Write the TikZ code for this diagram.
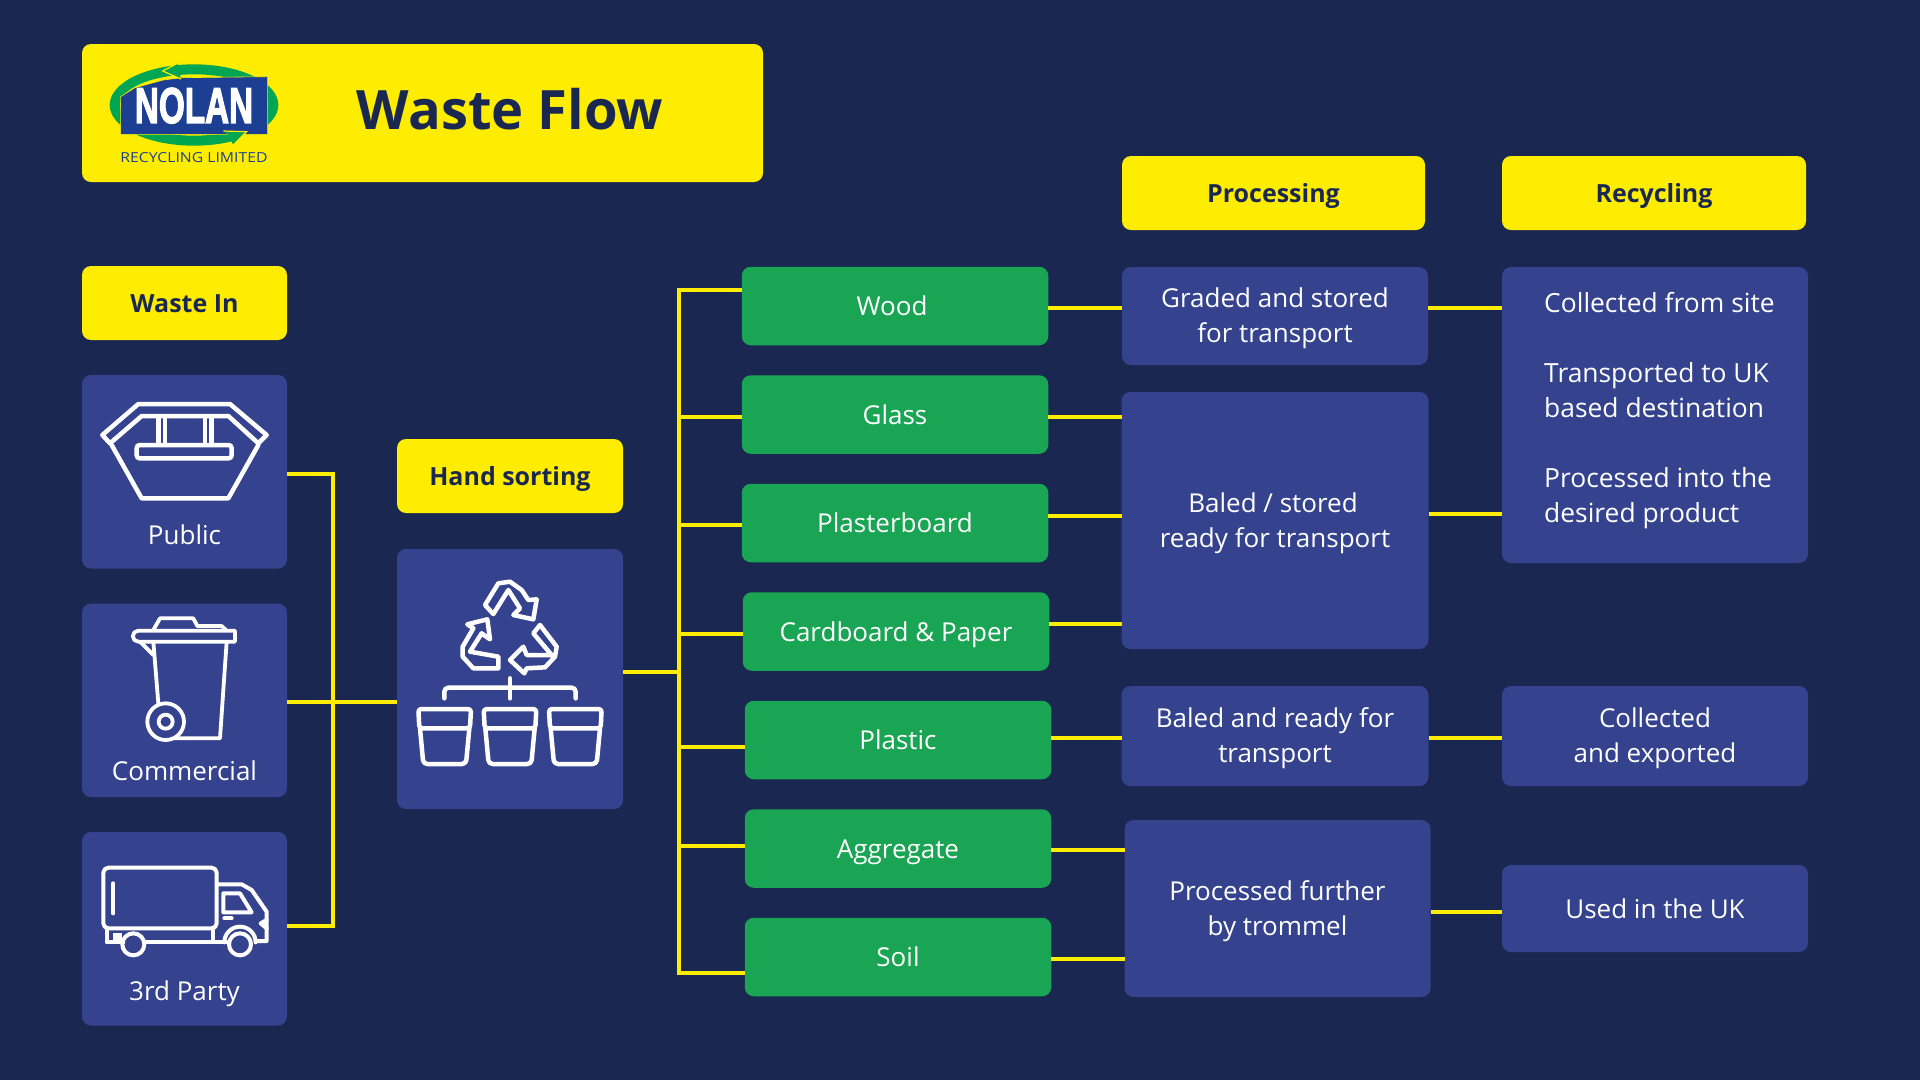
\documentclass[tikz,border=0pt]{standalone}
\usepackage{fontspec}
\usepackage{graphicx}
\setmainfont{Open Sans}
\newfontfamily\nolanfont{Liberation Sans}[BoldFeatures={FakeBold=3}]
\usetikzlibrary{
	positioning
}
\definecolor{navy}{HTML}{1A2750}
\definecolor{panel}{HTML}{35438F}
\definecolor{brightyellow}{HTML}{FFED00}
\definecolor{leaf}{HTML}{19A553}
\definecolor{logoblue}{HTML}{1C3F94}
\definecolor{logogreen}{HTML}{00A651}
\newcommand{\firstline}{\rule{0pt}{25pt}}
\tikzset{
	flowbox/.style={
		draw=none,
		rounded corners=9pt,
		inner sep=0pt,
		outer sep=0pt,
		align=center,
		font=\fontsize{26}{35}\selectfont
	},
	headbox/.style={
		flowbox,
		fill=brightyellow,
		text=navy,
		minimum height=74pt,
		text height=19pt,
		text depth=0pt,
		font=\fontsize{25}{35}\selectfont\bfseries
	},
	panelbox/.style={
		flowbox,
		fill=panel,
		text=white
	},
	sortbox/.style={
		flowbox,
		fill=leaf,
		text=white,
		text height=19pt,
		text depth=0pt,
		minimum width=306.5pt,
		minimum height=78.5pt
	},
	sourcebox/.style={
		panelbox,
		minimum width=205pt,
		minimum height=193.5pt
	},
	sourcetext/.style={
		text=white,
		font=\fontsize{26}{35}\selectfont
	},
	wire/.style={
		draw=brightyellow,
		line width=4.5pt
	},
	icon/.style={
		draw=white,
		line width=4.5pt,
		line join=round,
		line cap=round
	}
}

\begin{document}
\begin{tikzpicture}[x=1pt,y=-1pt]
	\useasboundingbox[fill=navy] (0,0) rectangle (1920,1080);

	% title
	\node[headbox,minimum width=681pt,minimum height=138pt] (title) at (422.5,113) {};
	\node[text=navy,font=\fontsize{54.3}{60}\selectfont\bfseries] (titletext) at (510,109) {Waste Flow};

	% waste in
	\node[headbox,minimum width=205pt] (wastein) at (184.5,303) {Waste In};
	\node[sourcebox,below=35pt of wastein] (public) {};
	\node[sourcebox,below=35pt of public] (commercial) {};
	\node[sourcebox,below=35pt of commercial] (thirdparty) {};
	\node[sourcetext] (publictext) at (184.5,535) {Public};
	\node[sourcetext] (commercialtext) at (184.5,771) {Commercial};
	\node[sourcetext] (thirdpartytext) at (184.5,993.5) {3rd Party};

	% hand sorting
	\node[headbox,minimum width=226pt] (handhead) at (510,476) {Hand sorting};
	\node[panelbox,minimum width=226pt,minimum height=260pt,below=36pt of handhead] (hand) {};

	% sorted materials
	\node[sortbox] (wood) at (895,306) {\kern-6pt Wood};
	\node[sortbox,below=30pt of wood] (glass) {Glass};
	\node[sortbox,below=30pt of glass] (plaster) {Plasterboard};
	\node[sortbox,below=30pt of plaster,xshift=1pt] (card) {Cardboard \& Paper};
	\node[sortbox,below=30pt of card,xshift=2pt] (plastic) {Plastic};
	\node[sortbox,below=30pt of plastic] (aggregate) {Aggregate};
	\node[sortbox,below=30pt of aggregate] (soil) {Soil};

	% processing
	\node[headbox,minimum width=303pt] (processing) at (1273.5,193) {Processing};
	\node[panelbox,minimum width=306pt,minimum height=98pt] (graded) at (1275,316) {\firstline Graded and stored\\for transport};
	\node[panelbox,minimum width=307pt,minimum height=257pt,below=27pt of graded] (baled) {\firstline \kern-4pt Baled / stored\\ready for transport};
	\node[panelbox,minimum width=307pt,minimum height=100pt,below=37pt of baled] (baledready) {\firstline Baled and ready for\\transport};
	\node[panelbox,minimum width=306pt,minimum height=177pt,below=34pt of baledready,xshift=2.5pt] (trommel) {\firstline Processed further\\by trommel};

	% recycling
	\node[headbox,minimum width=304pt] (recycling) at (1654,193) {Recycling};
	\node[panelbox,minimum width=306pt,minimum height=296pt] (site) at (1655,415) {};
	\node[text=white,align=left,anchor=west,inner sep=0pt,font=\fontsize{26.4}{35}\selectfont] (sitetext) at (1544,410.5) {Collected from site\\[35pt]Transported to UK\\based destination\\[35pt]Processed into the\\desired product};
	\node[panelbox,minimum width=306pt,minimum height=100pt] (collected) at (1655,736) {\firstline Collected\\and exported};
	\node[panelbox,minimum width=306pt,minimum height=87pt,below=79pt of collected] (used) {Used in the UK};

	% connectors
	\coordinate (join) at (333,702);
	\coordinate (trunk) at (679,672);
	\draw[wire]
		(public.east |- 0,474) -| (join)
		(thirdparty.east |- 0,926) -| (join)
		(commercial.east |- join) -- (hand.west |- join)
		(hand.east |- trunk) -- (trunk)
		(wood.west |- 0,290) -| (trunk)
		(glass.west |- 0,417) -| (trunk)
		(plaster.west |- 0,525) -| (trunk)
		(card.west |- 0,634) -| (trunk)
		(plastic.west |- 0,747) -| (trunk)
		(aggregate.west |- 0,846) -| (trunk)
		(soil.west |- 0,973) -| (trunk)
		(wood.east |- 0,308) -- (graded.west |- 0,308)
		(glass.east |- 0,417) -- (baled.west |- 0,417)
		(plaster.east |- 0,516) -- (baled.west |- 0,516)
		(card.east |- 0,624) -- (baled.west |- 0,624)
		(plastic.east |- 0,738) -- (baledready.west |- 0,738)
		(aggregate.east |- 0,850) -- (trommel.west |- 0,850)
		(soil.east |- 0,959) -- (trommel.west |- 0,959)
		(graded.east |- 0,308) -- (site.west |- 0,308)
		(baled.east |- 0,514) -- (site.west |- 0,514)
		(baledready.east |- 0,738) -- (collected.west |- 0,738)
		(trommel.east |- 0,912) -- (used.west |- 0,912)
	;

	% logo
	\begin{scope}[shift={(100,55)},scale=1/3]
		\fill[logogreen,even odd rule] (282,150) ellipse [x radius=253,y radius=122] (282,150) ellipse [x radius=222,y radius=92];
		\fill[brightyellow] (420,238) rectangle (540,280);
		\filldraw[fill=logoblue,draw=brightyellow,line width=.6pt] (62,125) -- (105,98) -- (190,75) -- (245,68) -- (503,65) -- (503,238) -- (62,238) -- cycle;
		\fill[logogreen] (188,48) -- (232,25) -- (243,72) -- cycle;
		\draw[brightyellow,line width=1.2pt] (232,25) -- (188,48) -- (243,72);
		\fill[logogreen] (370,228) -- (440,230) -- (400,270) -- (385,240) -- cycle;
		\draw[brightyellow,line width=1.2pt] (370,228) -- (440,230) -- (400,270);
		\node[text=white,inner sep=0pt] (nolan) at (282,152) {\resizebox{118pt}{35pt}{\nolanfont\bfseries NOLAN}};
		\node[text=logoblue,inner sep=0pt] (limited) at (282,308) {\resizebox{147pt}{10pt}{RECYCLING LIMITED}};
	\end{scope}

	% skip
	\begin{scope}[shift={(95,390)},scale=1/3]
		\draw[icon] (130,42) -- (405,42) -- (515,135) -- (490,160) -- (400,78) -- (140,78) -- (45,160) -- (22,135) -- cycle;
		\draw[icon] (50,165) -- (140,325) -- (400,325) -- (490,165);
		\draw[icon,rounded corners=3pt] (125,165) rectangle (410,205);
		\draw[icon] (190,80) -- (190,163) (210,80) -- (210,163) (330,80) -- (330,163) (350,80) -- (350,163);
	\end{scope}

	% bin
	\begin{scope}[shift={(120,610)},scale=1/3,icon/.append style={line width=3.8pt}]
		\draw[icon] (100,60) -- (120,25) -- (220,25) -- (232,48) -- (305,48) -- (320,62);
		\draw[icon] (55,62) -- (345,62) -- (345,95) -- (55,95) arc[start angle=90,end angle=270,radius=16.5] -- cycle;
		\draw[icon] (60,95) -- (100,135);
		\draw[icon] (100,95) -- (115,280);
		\draw[icon] (320,95) -- (300,385) -- (160,385);
		\draw[icon] (137,335) circle [radius=55];
		\draw[icon] (137,335) circle [radius=21];
	\end{scope}

	% truck
	\begin{scope}[shift={(95,855)},scale=1/3,icon/.append style={line width=4pt}]
		\draw[icon,rounded corners=5pt] (25,38) rectangle (365,220);
		\draw[icon] (55,85) -- (55,175);
		\draw[icon] (35,222) -- (35,262) -- (85,262);
		\draw[icon] (150,262) -- (395,262);
		\draw[icon] (355,222) -- (355,258);
		\draw[icon] (115,268) circle [radius=33];
		\draw[icon] (435,268) circle [radius=33];
		\draw[icon] (388,262) arc[start angle=180,end angle=360,radius=47];
		\draw[icon] (370,88) -- (440,88) -- (470,105) -- (515,170) -- (515,258) -- (482,258);
		\draw[icon] (385,115) -- (435,115) -- (470,172) -- (385,172) -- cycle;
		\draw[icon] (388,190) -- (410,190);
		\draw[icon] (515,195) -- (497,205) -- (515,220);
		\fill[white] (55,235) rectangle (80,255);
	\end{scope}

	% sorting icon
	\begin{scope}[shift={(390,540)},scale=1/3]
		\draw[icon] (285,195) -- (325,130) -- (360,125) -- (395,150) -- (415,180) -- (440,178) -- (430,238) -- (370,225) -- (390,205) -- (355,150) -- (310,222) -- cycle;
		\draw[icon] (232,253) -- (292,238) -- (300,298) -- (275,280) -- (240,335) -- (325,350) -- (325,385) -- (250,385) -- (218,350) -- (218,320) -- (250,265) -- cycle;
		\draw[icon] (450,255) -- (500,320) -- (495,350) -- (465,382) -- (410,385) -- (403,400) -- (360,360) -- (400,320) -- (410,345) -- (485,345) -- (430,280) -- cycle;
		\draw[icon,rounded corners=4pt] (163,475) -- (163,443) -- (557,443) -- (557,475);
		\draw[icon] (360,415) -- (360,475);
		\foreach \bucketx in {0,196,392} {
			\begin{scope}[xshift=\bucketx]
				\draw[icon,rounded corners=3pt] (85,507) -- (243,507) -- (240,565) -- (88,565) -- cycle;
				\draw[icon,rounded corners=4pt] (90,565) -- (100,672) -- (228,672) -- (238,565);
			\end{scope}
		}
	\end{scope}
\end{tikzpicture}
\end{document}
